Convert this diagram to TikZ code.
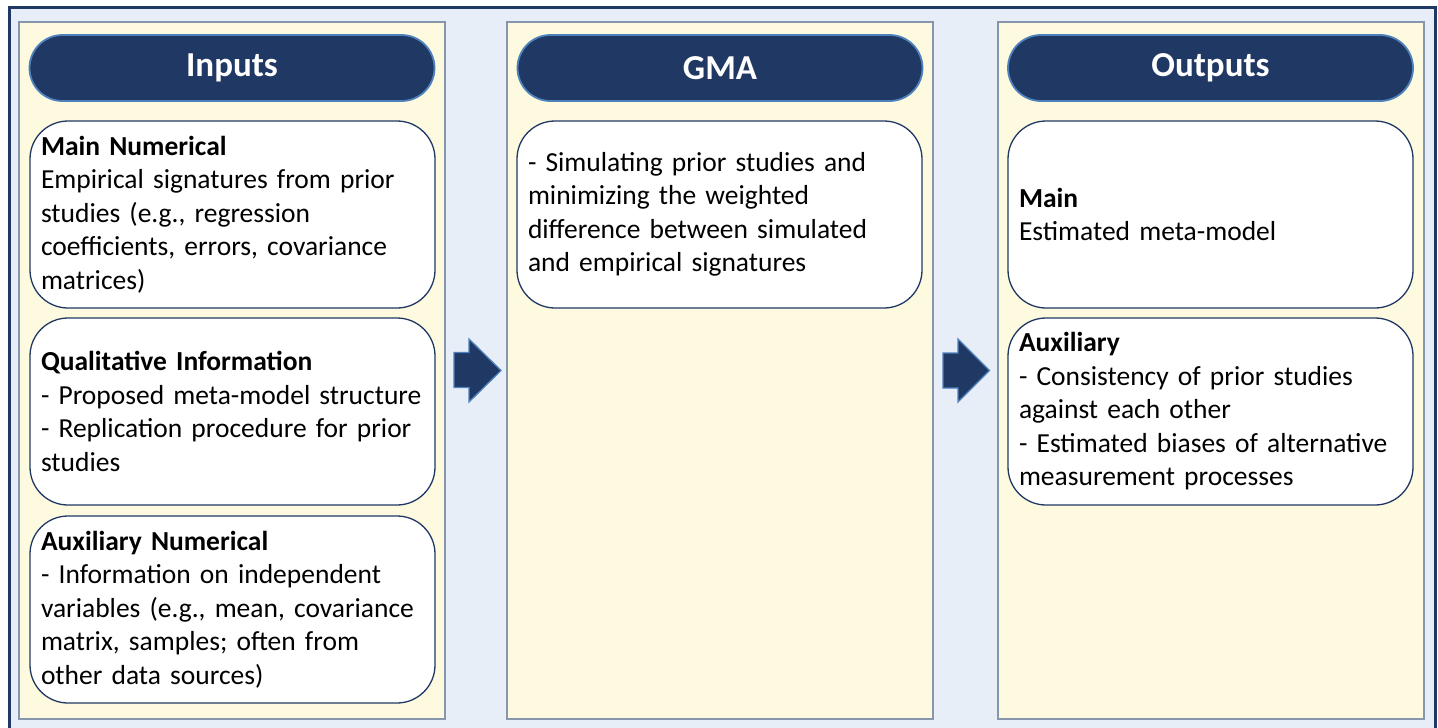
\documentclass[tikz,border=0pt]{standalone}
\usepackage{fontspec}
\setmainfont{Carlito}
\definecolor{navy}{HTML}{203864}
\definecolor{pillborder}{HTML}{4F81BD}
\definecolor{outerbg}{HTML}{E8EEF8}
\definecolor{cream}{HTML}{FEFADF}
\definecolor{panelline}{HTML}{8796AC}
\begin{document}
\begin{tikzpicture}[x=1pt,y=-1pt,
 panel/.style={draw=panelline, fill=cream, line width=1.2pt, minimum width=426pt, minimum height=697pt, inner sep=0pt},
 pill/.style={draw=pillborder, fill=navy, line width=1.8pt, rounded corners=33pt, minimum width=405pt, minimum height=66pt, inner sep=0pt, text=white, font=\fontsize{35}{40}\selectfont\bfseries},
 card/.style={draw=navy, fill=white, line width=1.3pt, rounded corners=38pt, minimum width=405pt, minimum height=187pt, inner xsep=11pt, inner ysep=0pt, text width=383pt, align=left, font=\fontsize{27.5}{33.5}\selectfont},
 blockarrow/.style={draw=pillborder, fill=navy, line width=1.3pt, line join=miter}]
\useasboundingbox (0,0) rectangle (1438,728);
\fill[white] (0,0) rectangle (1438,728);
\fill[outerbg] (9.5,7.5) rectangle (1435.5,740);
\draw[navy, line width=3pt] (9.5,740) -- (9.5,7.5) -- (1435.5,7.5) -- (1435.5,740);

% panels
\node[panel] (pin) at (232,370.5) {};
\node[panel] (pgma) at (720,370.5) {};
\node[panel] (pout) at (1211,370.5) {};

% headers
\node[pill] (hin) at (232,68) {Inputs};
\node[pill] (hgma) at (720,68) {GMA};
\node[pill] (hout) at (1210.5,68) {Outputs};

% input cards
\node[card] (in1) at (232.5,214.5) {\textbf{Main Numerical}\\Empirical signatures from prior\\studies (e.g., regression\\coefficients, errors, covariance\\matrices)};
\node[card] (in2) at (232.5,411.5) {\textbf{Qualitative Information}\\- Proposed meta-model structure\\- Replication procedure for prior\\studies};
\node[card] (in3) at (232.5,609.5) {\textbf{Auxiliary Numerical}\\- Information on independent\\variables (e.g., mean, covariance\\matrix, samples; often from\\other data sources)};

% GMA card
\node[card] (gma1) at (719.5,214.5) {- Simulating prior studies and\\minimizing the weighted\\difference between simulated\\and empirical signatures};

% output cards
\node[card] (out1) at (1210.5,214.5) {\textbf{Main}\\Estimated meta-model};
\node[card] (out2) at (1210.5,411.5) {\textbf{Auxiliary}\\- Consistency of prior studies\\against each other\\- Estimated biases of alternative\\measurement processes};

% block arrows
\draw[blockarrow] (454,352.5) -- (469,352.5) -- (469,339) -- (501,370.5) -- (469,402) -- (469,387.5) -- (454,387.5) -- cycle;
\draw[blockarrow] (943,353) -- (958,353) -- (958,339) -- (989.5,370.5) -- (958,402) -- (958,388) -- (943,388) -- cycle;
\end{tikzpicture}
\end{document}
